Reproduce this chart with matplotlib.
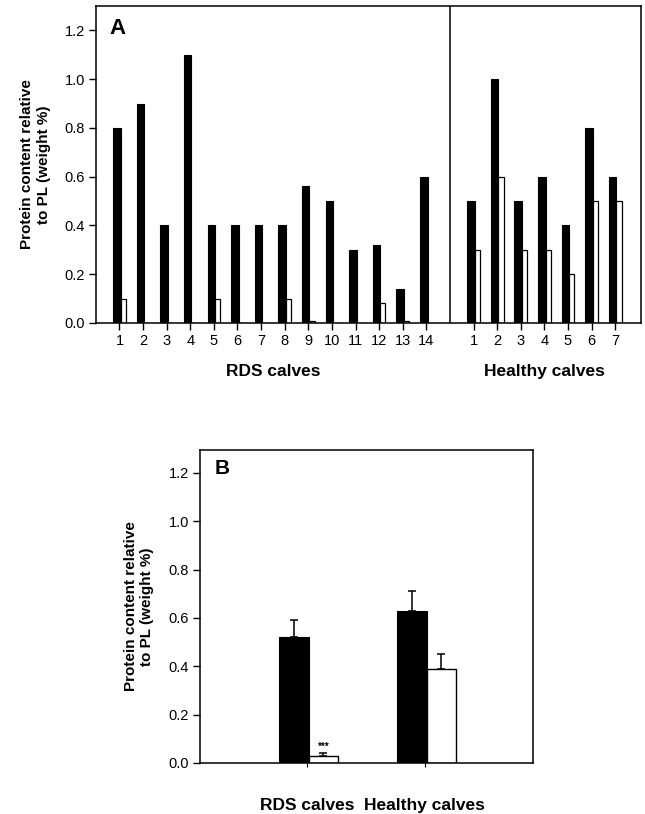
import numpy as np
import matplotlib
matplotlib.use("Agg")
import matplotlib.pyplot as plt

plt.rcParams["font.family"] = ["Liberation Sans", "DejaVu Sans"]

# Panel A: individual calves
rds_ids = list(range(1, 15))
rds_black = [0.80, 0.90, 0.40, 1.10, 0.40, 0.40, 0.40, 0.40, 0.56, 0.50, 0.30, 0.32, 0.14, 0.60]
rds_white = [0.10, 0.0, 0.0, 0.0, 0.10, 0.0, 0.0, 0.10, 0.01, 0.0, 0.0, 0.08, 0.01, 0.0]
healthy_ids = list(range(1, 8))
healthy_black = [0.50, 1.00, 0.50, 0.60, 0.40, 0.80, 0.60]
healthy_white = [0.30, 0.60, 0.30, 0.30, 0.20, 0.50, 0.50]

# Panel B: group means
groups = ["RDS calves", "Healthy calves"]
mean_black = [0.52, 0.63]
err_black = [0.07, 0.08]
mean_white = [0.03, 0.39]
err_white = [0.01, 0.06]

ylabel = "Protein content relative\nto PL (weight %)"
yticks = [0.0, 0.2, 0.4, 0.6, 0.8, 1.0, 1.2]

fig = plt.figure(figsize=(6.45, 8.14), dpi=100)

# ---- Panel A
axA = fig.add_axes([0.149, 0.6032, 0.845, 0.3894])
x_rds = np.array(rds_ids, dtype=float)
x_h = np.array(healthy_ids, dtype=float) + 15
x_all = np.concatenate([x_rds, x_h])
black_all = rds_black + healthy_black
white_all = rds_white + healthy_white

axA.bar(x_all + 0.05, black_all, width=-0.32, align="edge", color="black", edgecolor="black", linewidth=0.8)
axA.bar(x_all + 0.05, white_all, width=0.22, align="edge", color="white", edgecolor="black", linewidth=0.9)
axA.axvline(15, color="black", linewidth=1.1)

axA.set_xlim(0.01, 23.1)
axA.set_ylim(0, 1.3)
axA.set_yticks(yticks)
axA.set_yticklabels([f"{t:.1f}" for t in yticks], fontsize=10.5)
axA.set_xticks(x_all)
axA.set_xticklabels([str(i) for i in rds_ids + healthy_ids], fontsize=10.5)
axA.tick_params(direction="out", length=5, width=1, pad=3)
for s in axA.spines.values():
    s.set_linewidth(1.1)
axA.set_ylabel(ylabel, fontsize=11, fontweight="bold", labelpad=10)
axA.text(x_rds.mean(), -0.2, "RDS calves", ha="center", va="center",
         fontsize=12.5, fontweight="bold", transform=axA.transData)
axA.text(x_h.mean(), -0.2, "Healthy calves", ha="center", va="center",
         fontsize=12.5, fontweight="bold", transform=axA.transData)
axA.text(0.025, 0.93, "A", transform=axA.transAxes, fontsize=16, fontweight="bold",
         ha="left", va="center")

# ---- Panel B
axB = fig.add_axes([0.310, 0.0627, 0.516, 0.3845])
xb = np.arange(1, len(groups) + 1, dtype=float)
axB.bar(xb + 0.015, mean_black, width=-0.255, align="edge", color="black", edgecolor="black", linewidth=0.8)
axB.bar(xb + 0.015, mean_white, width=0.25, align="edge", color="white", edgecolor="black", linewidth=1.0)
axB.errorbar(xb + 0.015 - 0.1275, mean_black, yerr=[np.zeros(len(xb)), err_black],
             fmt="none", ecolor="black", elinewidth=1.1, capsize=3, capthick=1.1)
axB.errorbar(xb + 0.015 + 0.125, mean_white, yerr=[np.zeros(len(xb)), err_white],
             fmt="none", ecolor="black", elinewidth=1.1, capsize=3, capthick=1.1)
axB.text(xb[0] + 0.14, mean_white[0] + err_white[0] + 0.005, "***", ha="center", va="bottom",
         fontsize=7, fontweight="bold")

axB.set_xlim(0.093, 2.915)
axB.set_ylim(0, 1.295)
axB.set_yticks(yticks)
axB.set_yticklabels([f"{t:.1f}" for t in yticks], fontsize=10.5)
axB.set_xticks(xb)
axB.set_xticklabels(groups, fontsize=12.5, fontweight="bold")
axB.tick_params(axis="y", direction="out", length=5, width=1, pad=3)
axB.tick_params(axis="x", direction="out", length=3, width=0.8, pad=22)
for s in axB.spines.values():
    s.set_linewidth(1.1)
axB.set_ylabel(ylabel, fontsize=11, fontweight="bold", labelpad=10)
axB.text(0.045, 0.94, "B", transform=axB.transAxes, fontsize=15, fontweight="bold",
         ha="left", va="center")

fig.savefig("out.png", dpi=100)
